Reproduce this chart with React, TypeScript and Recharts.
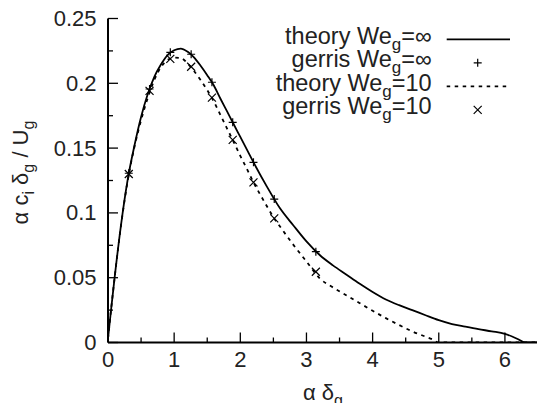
import { ComposedChart, Line, Scatter, XAxis, YAxis } from 'recharts'

// theory curves, We_g = infinity (solid) and We_g = 10 (dashed)
const theoryInf = [
  { x: 0, y: 0.003 }, { x: 0.05, y: 0.027 }, { x: 0.1, y: 0.05 }, { x: 0.2, y: 0.092 },
  { x: 0.3, y: 0.1265 }, { x: 0.4, y: 0.152 }, { x: 0.5, y: 0.174 }, { x: 0.6, y: 0.1915 },
  { x: 0.7, y: 0.205 }, { x: 0.8, y: 0.2145 }, { x: 0.9, y: 0.2218 }, { x: 1.0, y: 0.2255 },
  { x: 1.1, y: 0.2268 }, { x: 1.2, y: 0.2245 }, { x: 1.3, y: 0.22 }, { x: 1.4, y: 0.2135 },
  { x: 1.5, y: 0.2062 }, { x: 1.6, y: 0.1983 }, { x: 1.7, y: 0.1881 }, { x: 1.8, y: 0.1783 },
  { x: 1.9, y: 0.1684 }, { x: 2.0, y: 0.1586 }, { x: 2.1, y: 0.1488 }, { x: 2.2, y: 0.139 },
  { x: 2.4, y: 0.1205 }, { x: 2.6, y: 0.1035 }, { x: 2.8, y: 0.0905 }, { x: 3.0, y: 0.078 },
  { x: 3.2, y: 0.0675 }, { x: 3.4, y: 0.0595 }, { x: 3.6, y: 0.0525 }, { x: 3.8, y: 0.0455 },
  { x: 4.0, y: 0.039 }, { x: 4.2, y: 0.0332 }, { x: 4.4, y: 0.0288 }, { x: 4.6, y: 0.025 },
  { x: 4.8, y: 0.021 }, { x: 5.0, y: 0.0172 }, { x: 5.2, y: 0.0142 }, { x: 5.4, y: 0.0122 },
  { x: 5.6, y: 0.0103 }, { x: 5.8, y: 0.0086 }, { x: 6.0, y: 0.0067 }, { x: 6.1, y: 0.0048 },
  { x: 6.2, y: 0.0025 }, { x: 6.3, y: 0 }, { x: 6.5, y: 0 }
]

const theory10 = [
  { x: 0, y: 0.003 }, { x: 0.05, y: 0.027 }, { x: 0.1, y: 0.05 }, { x: 0.2, y: 0.0915 },
  { x: 0.3, y: 0.1255 }, { x: 0.4, y: 0.151 }, { x: 0.5, y: 0.1715 }, { x: 0.6, y: 0.1885 },
  { x: 0.7, y: 0.2025 }, { x: 0.8, y: 0.2125 }, { x: 0.9, y: 0.218 }, { x: 1.0, y: 0.2198 },
  { x: 1.1, y: 0.2195 }, { x: 1.2, y: 0.2155 }, { x: 1.3, y: 0.2095 }, { x: 1.4, y: 0.2025 },
  { x: 1.5, y: 0.1947 }, { x: 1.6, y: 0.1859 }, { x: 1.7, y: 0.1755 }, { x: 1.8, y: 0.1651 },
  { x: 1.9, y: 0.1547 }, { x: 2.0, y: 0.144 }, { x: 2.1, y: 0.1339 }, { x: 2.2, y: 0.1235 },
  { x: 2.3, y: 0.1142 }, { x: 2.4, y: 0.1053 }, { x: 2.5, y: 0.0967 }, { x: 2.6, y: 0.0895 },
  { x: 2.8, y: 0.0755 }, { x: 3.0, y: 0.0625 }, { x: 3.2, y: 0.0495 }, { x: 3.4, y: 0.0425 },
  { x: 3.6, y: 0.0365 }, { x: 3.8, y: 0.0305 }, { x: 4.0, y: 0.0245 }, { x: 4.2, y: 0.0188 },
  { x: 4.4, y: 0.0135 }, { x: 4.6, y: 0.0085 }, { x: 4.8, y: 0.0045 }, { x: 4.9, y: 0.0025 },
  { x: 5.0, y: 0 }, { x: 6.5, y: 0 }
]

// gerris simulation points
const gerrisX = [0.314, 0.628, 0.942, 1.257, 1.571, 1.885, 2.199, 2.513, 3.142]
const gerrisInfY = [0.1306, 0.1956, 0.2239, 0.2224, 0.2008, 0.1699, 0.139, 0.1107, 0.0701]
const gerris10Y = [0.13, 0.1941, 0.2188, 0.2128, 0.1889, 0.1563, 0.1236, 0.0958, 0.0546]

const xTicks = [0, 0.5, 1, 1.5, 2, 2.5, 3, 3.5, 4, 4.5, 5, 5.5, 6]
const yTicks = [0, 0.025, 0.05, 0.075, 0.1, 0.125, 0.15, 0.175, 0.2, 0.225, 0.25]

const FONT = '"Liberation Sans", Arial, sans-serif'
const FS = 22

const gerrisInf = gerrisX.map((x, i) => ({ x, y: gerrisInfY[i] }))
const gerris10 = gerrisX.map((x, i) => ({ x, y: gerris10Y[i] }))

const isMajorX = (v: number) => Number.isInteger(v)
const isMajorY = (v: number) => Math.round(v * 1000) % 50 === 0

// text pieces: [text, isSubscript]
type Piece = [string, boolean]
const rich = (pieces: Piece[], subSize: number) =>
  pieces.map(([s, sub], i) => {
    const prevSub = i > 0 && pieces[i - 1][1]
    const dy = sub ? 6 : prevSub ? -6 : 0
    return (
      <tspan key={i} dy={dy} fontSize={sub ? subSize : undefined}>
        {s}
      </tspan>
    )
  })

const BottomTick = ({ x, y, payload }: any) => {
  const major = isMajorX(payload.value)
  return (
    <g>
      <line x1={x} x2={x} y1={y} y2={y - (major ? 10 : 5)} stroke="#000" strokeWidth={1.3} />
      {major && (
        <text x={x} y={y + 24} textAnchor="middle" fontFamily={FONT} fontSize={FS} fill="#222">
          {payload.value}
        </text>
      )}
    </g>
  )
}

const TopTick = ({ x, y, payload }: any) => (
  <line x1={x} x2={x} y1={y} y2={y + (isMajorX(payload.value) ? 10 : 5)} stroke="#000" strokeWidth={1.3} />
)

const LeftTick = ({ x, y, payload }: any) => {
  const major = isMajorY(payload.value)
  return (
    <g>
      <line x1={x} x2={x + (major ? 10 : 5)} y1={y} y2={y} stroke="#000" strokeWidth={1.3} />
      {major && (
        <text x={x - 11.5} y={y + 7.5} textAnchor="end" fontFamily={FONT} fontSize={FS} fill="#222">
          {payload.value}
        </text>
      )}
    </g>
  )
}

const RightTick = ({ x, y, payload }: any) => (
  <line x1={x} x2={x - (isMajorY(payload.value) ? 10 : 5)} y1={y} y2={y} stroke="#000" strokeWidth={1.3} />
)

const Plus = ({ cx, cy }: any) => (
  <path d={`M${cx - 4},${cy}H${cx + 4}M${cx},${cy - 4}V${cy + 4}`} stroke="#000" strokeWidth={1.2} fill="none" />
)

const Cross = ({ cx, cy }: any) => (
  <path
    d={`M${cx - 4},${cy - 4}L${cx + 4},${cy + 4}M${cx - 4},${cy + 4}L${cx + 4},${cy - 4}`}
    stroke="#000"
    strokeWidth={1.2}
    fill="none"
  />
)

const XLabel = ({ viewBox }: any) => (
  <text
    x={viewBox.x + viewBox.width / 2}
    y={viewBox.y + 57}
    textAnchor="middle"
    fontFamily={FONT}
    fontSize={FS}
    fill="#222"
  >
    {rich([['α δ', false], ['g', true]], 16)}
  </text>
)

const YLabel = ({ viewBox }: any) => (
  <text
    transform={`translate(${viewBox.x + 28},172.5) rotate(-90)`}
    textAnchor="middle"
    fontFamily={FONT}
    fontSize={FS}
    fill="#222"
  >
    {rich([['α c', false], ['i', true], [' δ', false], ['g', true], [' / U', false], ['g', true]], 16)}
  </text>
)

const legendRows = [
  { label: 'theory We', tail: '=∞', kind: 'solid' },
  { label: 'gerris We', tail: '=∞', kind: 'plus' },
  { label: 'theory We', tail: '=10', kind: 'dash' },
  { label: 'gerris We', tail: '=10', kind: 'cross' }
]

const LegendBox = () => (
  <svg width={537} height={403} style={{ position: 'absolute', left: 0, top: 0, pointerEvents: 'none' }}>
    {legendRows.map((r, i) => {
      const cy = 39.3 + i * 23.5
      return (
        <g key={i}>
          <text x={431.7} y={cy + 4.5} textAnchor="end" fontFamily={FONT} fontSize={23.5} fill="#222">
            {rich([[r.label, false], ['g', true], [r.tail, false]], 17)}
          </text>
          {r.kind === 'solid' && <line x1={446.7} x2={510} y1={cy} y2={cy} stroke="#000" strokeWidth={1.8} />}
          {r.kind === 'dash' && (
            <line x1={446.7} x2={510} y1={cy} y2={cy} stroke="#000" strokeWidth={1.8} strokeDasharray="3.5 4.5" />
          )}
          {r.kind === 'plus' && <Plus cx={477.7} cy={cy} />}
          {r.kind === 'cross' && <Cross cx={477.7} cy={cy} />}
        </g>
      )
    })}
  </svg>
)

export default function App() {
  return (
    <div style={{ position: 'absolute', left: 0, top: 0, width: 537, height: 403, overflow: 'hidden', background: '#fff' }}>
      <ComposedChart width={540} height={403} margin={{ top: 18.5, right: 2, bottom: 0, left: 0 }}>
        <XAxis
          type="number"
          dataKey="x"
          domain={[0, 6.5]}
          ticks={xTicks}
          interval={0}
          tickSize={0}
          tickMargin={0}
          height={60.5}
          axisLine={{ stroke: '#000', strokeWidth: 2 }}
          tick={<BottomTick />}
          label={XLabel}
          allowDataOverflow
        />
        <XAxis
          xAxisId="top"
          orientation="top"
          type="number"
          dataKey="x"
          domain={[0, 6.5]}
          ticks={xTicks}
          interval={0}
          tickSize={0}
          tickMargin={0}
          height={0}
          axisLine={{ stroke: '#000', strokeWidth: 2 }}
          tick={<TopTick />}
          allowDataOverflow
        />
        <YAxis
          type="number"
          domain={[0, 0.25]}
          ticks={yTicks}
          interval={0}
          tickSize={0}
          tickMargin={0}
          width={108}
          axisLine={{ stroke: '#000', strokeWidth: 2 }}
          tick={<LeftTick />}
          label={YLabel}
          allowDataOverflow
        />
        <YAxis
          yAxisId="right"
          orientation="right"
          type="number"
          domain={[0, 0.25]}
          ticks={yTicks}
          interval={0}
          tickSize={0}
          tickMargin={0}
          width={0}
          axisLine={{ stroke: '#000', strokeWidth: 2 }}
          tick={<RightTick />}
          allowDataOverflow
        />
        <Line
          data={theoryInf}
          dataKey="y"
          type="monotone"
          stroke="#000"
          strokeWidth={1.8}
          dot={false}
          activeDot={false}
          isAnimationActive={false}
        />
        <Line
          data={theory10}
          dataKey="y"
          type="monotone"
          stroke="#000"
          strokeWidth={1.8}
          strokeDasharray="3.5 4.5"
          dot={false}
          activeDot={false}
          isAnimationActive={false}
        />
        <Scatter data={gerrisInf} dataKey="y" shape={(p: any) => <Plus cx={p.cx} cy={p.cy} />} isAnimationActive={false} />
        <Scatter data={gerris10} dataKey="y" shape={(p: any) => <Cross cx={p.cx} cy={p.cy} />} isAnimationActive={false} />
      </ComposedChart>
      <LegendBox />
    </div>
  )
}
